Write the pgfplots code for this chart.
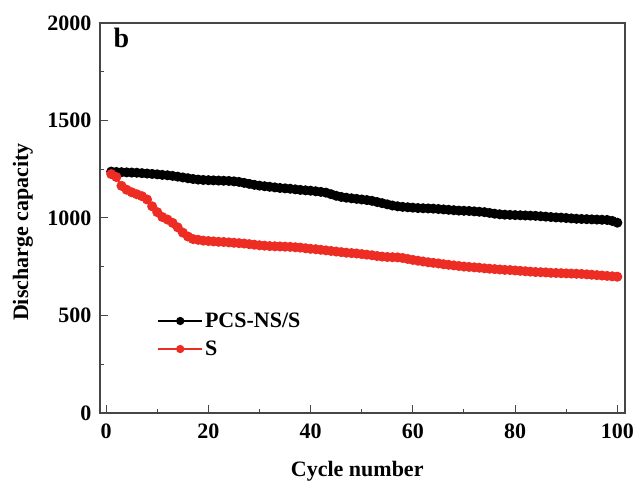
\documentclass[border=0pt]{standalone}
\usepackage{pgfplots}
\pgfplotsset{compat=1.18}
\usepackage{fontspec}
\setmainfont{Liberation Serif}
\definecolor{myred}{RGB}{237,45,36}
\definecolor{axgray}{RGB}{70,70,70}
\begin{document}
\begin{tikzpicture}
\path[use as bounding box] (-100bp,-69bp) rectangle (535bp,413bp);
\begin{axis}[
  scale only axis,
  width=525bp, height=390bp,
  xmin=-1.2, xmax=101.5,
  ymin=0, ymax=2000,
  xtick={0,20,40,60,80,100},
  ytick={0,500,1000,1500,2000},
  minor x tick num=1,
  minor y tick num=1,
  tick pos=left,
  tick align=inside,
  major tick length=8bp,
  minor tick length=4bp,
  axis line style={axgray, line width=1.1bp},
  tick style={axgray, line width=1bp},
  /pgf/number format/assume math mode=true,
  /pgf/number format/1000 sep={},
  ticklabel style={font=\fontsize{22bp}{26bp}\selectfont\bfseries},
  xticklabel style={yshift=-7bp},
  yticklabel style={xshift=-5bp},
  label style={font=\fontsize{22bp}{26bp}\selectfont\bfseries},
  xlabel={Cycle number},
  ylabel={Discharge capacity},
  xlabel style={at={(rel axis cs:0.49,0)}, anchor=center, yshift=-58bp},
  ylabel style={at={(rel axis cs:0,0.464)}, anchor=center, yshift=77bp},
  legend style={draw=none, fill=none, at={(rel axis cs:0.109,0.200)}, anchor=west,
    font=\fontsize{22bp}{26bp}\selectfont\bfseries, row sep=8bp,
    inner sep=0pt},
  legend cell align=left,
  legend image code/.code={%
    \draw[mark repeat=2,mark phase=2,mark size=3.3bp] plot coordinates {(0bp,0bp) (22bp,0bp) (44bp,0bp)};},
  clip=false,
]
\addplot[black, line width=1.6bp, mark=*, mark size=4.2bp] coordinates {
(1,1238)(2,1236)(3,1235)(4,1234)(5,1233)(6,1232)(7,1230)(8,1228)(9,1226)(10,1224)
(11,1221)(12,1219)(13,1216)(14,1212)(15,1208)(16,1204)(17,1200)(18,1197)(19,1195)(20,1194)
(21,1193)(22,1192)(23,1191)(24,1190)(25,1188)(26,1185)(27,1180)(28,1175)(29,1170)(30,1166)
(31,1163)(32,1160)(33,1157)(34,1154)(35,1152)(36,1150)(37,1147)(38,1144)(39,1142)(40,1140)
(41,1137)(42,1134)(43,1130)(44,1122)(45,1114)(46,1108)(47,1104)(48,1101)(49,1098)(50,1095)
(51,1092)(52,1088)(53,1082)(54,1076)(55,1070)(56,1064)(57,1060)(58,1057)(59,1055)(60,1053)
(61,1051)(62,1050)(63,1049)(64,1048)(65,1046)(66,1044)(67,1042)(68,1040)(69,1038)(70,1037)
(71,1036)(72,1034)(73,1032)(74,1030)(75,1026)(76,1022)(77,1019)(78,1017)(79,1016)(80,1015)
(81,1014)(82,1013)(83,1012)(84,1011)(85,1009)(86,1007)(87,1005)(88,1003)(89,1002)(90,1000)
(91,998)(92,996)(93,995)(94,994)(95,993)(96,992)(97,991)(98,990)(99,985)(100,976)
};
\addlegendentry{PCS-NS/S}
\addplot[myred, line width=1.6bp, mark=*, mark size=4.2bp] coordinates {
(1,1225)(2,1210)(3,1165)(4,1145)(5,1132)(6,1122)(7,1112)(8,1095)(9,1060)(10,1030)
(11,1005)(12,992)(13,975)(14,952)(15,925)(16,905)(17,892)(18,888)(19,884)(20,882)
(21,880)(22,878)(23,877)(24,875)(25,873)(26,871)(27,869)(28,866)(29,863)(30,860)
(31,858)(32,856)(33,855)(34,854)(35,853)(36,852)(37,850)(38,848)(39,845)(40,842)
(41,840)(42,837)(43,834)(44,831)(45,828)(46,825)(47,822)(48,820)(49,818)(50,815)
(51,812)(52,809)(53,805)(54,802)(55,800)(56,799)(57,798)(58,795)(59,790)(60,785)
(61,781)(62,777)(63,773)(64,770)(65,767)(66,763)(67,760)(68,757)(69,754)(70,751)
(71,749)(72,747)(73,745)(74,742)(75,740)(76,738)(77,736)(78,734)(79,733)(80,731)
(81,729)(82,727)(83,725)(84,723)(85,722)(86,721)(87,719)(88,718)(89,717)(90,716)
(91,715)(92,714)(93,713)(94,711)(95,709)(96,707)(97,705)(98,703)(99,701)(100,699)
};
\addlegendentry{S}
\node[font=\fontsize{28bp}{32bp}\selectfont\bfseries, anchor=center] at (rel axis cs:0.041,0.963) {b};
\end{axis}
\end{tikzpicture}
\end{document}
